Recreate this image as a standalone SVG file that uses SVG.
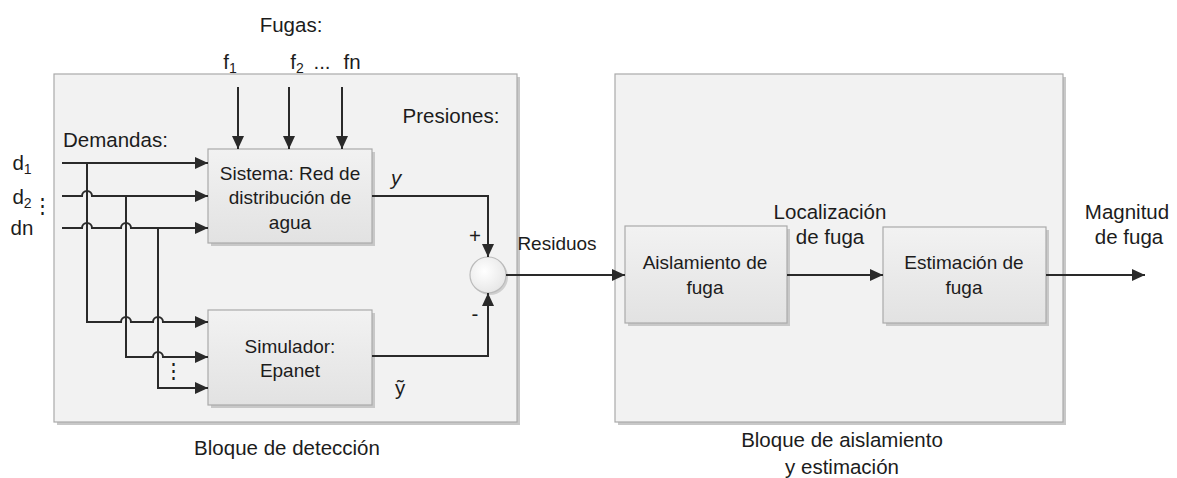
<svg xmlns="http://www.w3.org/2000/svg" width="1177" height="478" viewBox="0 0 1177 478">
<defs>
<marker id="ah" markerUnits="userSpaceOnUse" markerWidth="14" markerHeight="12" refX="13" refY="6" orient="auto">
<path d="M0,0 L13,6 L0,12 z" fill="#2a2a2a"/>
</marker>
<linearGradient id="boxg" x1="0" y1="0" x2="0" y2="1">
<stop offset="0" stop-color="#f2f2f2"/>
<stop offset="1" stop-color="#e2e2e2"/>
</linearGradient>
<radialGradient id="cg" cx="0.4" cy="0.4" r="0.7">
<stop offset="0" stop-color="#ffffff"/>
<stop offset="1" stop-color="#e4e4e4"/>
</radialGradient>
</defs>
<style>
text{font-family:"Liberation Sans",Arial,sans-serif;font-size:20.5px;fill:#1c1c1c;text-anchor:middle;}
.b{font-size:19px;}
.l{text-anchor:start;}
.outer{fill:#f2f2f2;stroke:#aaa;stroke-width:1.2;}
.inner{fill:url(#boxg);stroke:#aaa;stroke-width:1.2;}
.shadow{fill:#c8c8c8;}
.c{fill:none;stroke:#2a2a2a;stroke-width:2;}
.a{marker-end:url(#ah);}
</style>
<rect width="1177" height="478" fill="#ffffff"/>

<g id="bloque-deteccion">
<rect class="shadow" x="57" y="77" width="463" height="348"/>
<rect class="outer" x="54" y="74" width="463" height="348"/>
<text x="287" y="455">Bloque de detección</text>
</g>
<g id="bloque-aislamiento">
<rect class="shadow" x="618" y="77" width="448" height="348"/>
<rect class="outer" x="615" y="74" width="448" height="348"/>
<text x="842" y="447">Bloque de aislamiento</text>
<text x="842" y="474">y estimación</text>
</g>

<g id="labels">
<text x="291" y="32">Fugas:</text>
<text x="230" y="69">f<tspan font-size="14" dy="4">1</tspan></text>
<text x="297" y="69">f<tspan font-size="14" dy="4">2</tspan></text>
<text x="322" y="69">...</text>
<text x="352" y="69">fn</text>
<text x="451" y="123">Presiones:</text>
<text class="l" x="63" y="147">Demandas:</text>
<text x="22" y="170">d<tspan font-size="14" dy="4">1</tspan></text>
<text x="22" y="204">d<tspan font-size="14" dy="4">2</tspan></text>
<text x="22" y="235">dn</text>
<text x="42" y="213" font-size="14">⋮</text>
<text x="173" y="378" font-size="14">⋮</text>
<text x="396" y="185" font-style="italic">y</text>
<text x="475" y="243">+</text>
<text x="475" y="321">-</text>
<text x="400" y="395">ỹ</text>
<text x="557" y="250" style="font-size:19px">Residuos</text>
<text x="830" y="219">Localización</text>
<text x="830" y="244">de fuga</text>
<text x="1127" y="219">Magnitud</text>
<text x="1129" y="244">de fuga</text>
</g>

<g id="sistema">
<rect class="shadow" x="211" y="152" width="164" height="94"/>
<rect class="inner" x="208" y="149" width="164" height="94"/>
<text class="b" x="290" y="180">Sistema: Red de</text>
<text class="b" x="290" y="204">distribución de</text>
<text class="b" x="290" y="229">agua</text>
</g>
<g id="simulador">
<rect class="shadow" x="211" y="313" width="164" height="95"/>
<rect class="inner" x="208" y="310" width="164" height="95"/>
<text class="b" x="290" y="353">Simulador:</text>
<text class="b" x="290" y="377">Epanet</text>
</g>
<g id="suma">
<circle cx="490" cy="277" r="18" fill="#cfcfcf"/>
<circle cx="488" cy="275" r="18" fill="url(#cg)" stroke="#bbb" stroke-width="1.2"/>
</g>
<g id="aislamiento">
<rect class="shadow" x="628" y="229" width="162" height="97"/>
<rect class="inner" x="625" y="226" width="162" height="97"/>
<text class="b" x="705" y="269">Aislamiento de</text>
<text class="b" x="705" y="294">fuga</text>
</g>
<g id="estimacion">
<rect class="shadow" x="886" y="230" width="163" height="96"/>
<rect class="inner" x="883" y="227" width="163" height="96"/>
<text class="b" x="964" y="269">Estimación de</text>
<text class="b" x="964" y="294">fuga</text>
</g>

<g id="connectors">
<path class="c a" d="M238,87 V149"/>
<path class="c a" d="M289,87 V149"/>
<path class="c a" d="M342,87 V149"/>
<path class="c a" d="M62,163 H208"/>
<path class="c a" d="M62,196 H82 A5,5 0 0 1 92,196 H208"/>
<path class="c a" d="M62,228 H82 A5,5 0 0 1 92,228 H121 A5,5 0 0 1 131,228 H208"/>
<path class="c a" d="M87,163 V322 H121 A5,5 0 0 1 131,322 H153 A5,5 0 0 1 163,322 H208"/>
<path class="c a" d="M126,196 V357 H153 A5,5 0 0 1 163,357 H208"/>
<path class="c a" d="M158,228 V388 H208"/>
<path class="c a" d="M372,196 H488 V257"/>
<path class="c a" d="M372,356 H488 V293"/>
<path class="c a" d="M506,275 H625"/>
<path class="c a" d="M787,275 H883"/>
<path class="c a" d="M1046,275 H1145"/>
</g>
</svg>
